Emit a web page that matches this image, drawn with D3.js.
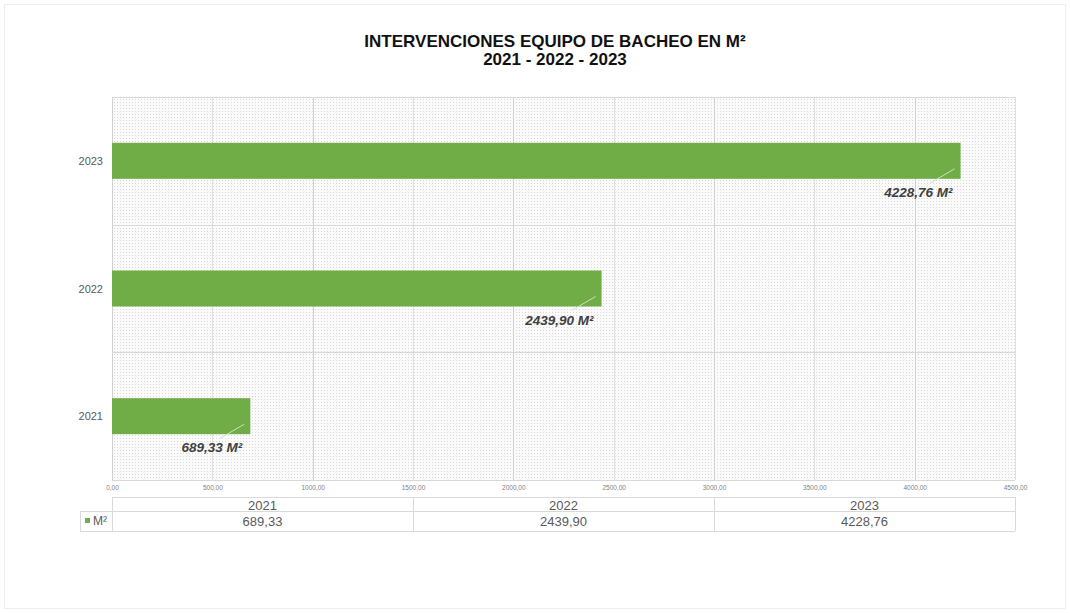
<!DOCTYPE html>
<html><head><meta charset="utf-8">
<script src="https://cdn.jsdelivr.net/npm/d3@7"></script>
<style>body{margin:0;background:#fff;} svg{display:block;font-family:"Liberation Sans",Arial,sans-serif;}</style>
</head><body><svg id="c" width="1070" height="613"></svg>
<script>
const categories = ["2021", "2022", "2023"];
const values = [689.33, 2439.90, 4228.76];
const seriesName = "M²";
const xTicks = [0, 500, 1000, 1500, 2000, 2500, 3000, 3500, 4000, 4500];
const titleLines = ["INTERVENCIONES EQUIPO DE BACHEO EN M²", "2021 - 2022 - 2023"];

const loc = d3.formatLocale({decimal: ",", thousands: "", grouping: [3], currency: ["", ""]});
const f2 = loc.format(".2f");

const svg = d3.select("#c");
const W = 1070, H = 613;
const m = {left: 112, right: 1015, top: 97, bottom: 480};

svg.append("rect").attr("x", 4.5).attr("y", 4.5).attr("width", W - 9).attr("height", H - 9)
  .attr("fill", "#fff").attr("stroke", "#eeeeee");

// dotted texture
const defs = svg.append("defs");
const pat = defs.append("pattern").attr("id", "dots").attr("width", 3).attr("height", 3)
  .attr("patternUnits", "userSpaceOnUse");
pat.append("rect").attr("width", 3).attr("height", 3).attr("fill", "#fbfbfb");
pat.append("rect").attr("width", 1).attr("height", 1).attr("fill", "#d8d8d8");

const x = d3.scaleLinear().domain([0, 4500]).range([m.left, m.right]);
const y = d3.scaleBand().domain(categories.slice().reverse()).range([m.top, m.bottom]).paddingInner(0).paddingOuter(0);

svg.append("rect").attr("x", m.left).attr("y", m.top).attr("width", m.right - m.left)
  .attr("height", m.bottom - m.top).attr("fill", "url(#dots)");

// vertical grid
svg.append("g").selectAll("line").data(xTicks).join("line")
  .attr("x1", d => Math.round(x(d)) + 0.5).attr("x2", d => Math.round(x(d)) + 0.5)
  .attr("y1", m.top).attr("y2", m.bottom)
  .attr("stroke", d => d % 1000 === 0 ? "#d0d0d0" : "#e0e0e0");
// horizontal grid (band boundaries)
const hb = categories.map(c => y(c)).concat([m.bottom]);
svg.append("g").selectAll("line").data(hb).join("line")
  .attr("x1", m.left).attr("x2", m.right)
  .attr("y1", d => Math.round(d) + 0.5).attr("y2", d => Math.round(d) + 0.5)
  .attr("stroke", "#d8d8d8");

// bars
const bh = 36;
svg.append("g").selectAll("rect").data(categories).join("rect")
  .attr("x", x(0)).attr("y", c => y(c) + y.bandwidth() / 2 - bh / 2)
  .attr("width", (c, i) => x(values[i]) - x(0)).attr("height", bh)
  .attr("fill", "#70ad47");

// leader lines + labels
categories.forEach((c, i) => {
  const xe = x(values[i]);
  const yb = y(c) + y.bandwidth() / 2 + bh / 2;
  svg.append("line").attr("x1", xe - 30).attr("y1", yb + 4).attr("x2", xe - 6).attr("y2", yb - 10)
    .attr("stroke", "#cfe0c2").attr("stroke-width", 1);
  svg.append("text").attr("x", xe - 8).attr("y", yb + 18)
    .attr("text-anchor", "end").attr("font-size", 13.5).attr("font-weight", "bold")
    .attr("font-style", "italic").attr("fill", "#404040")
    .text(f2(values[i]) + " " + seriesName);
});

// y labels
svg.append("g").selectAll("text").data(categories).join("text")
  .attr("x", 103).attr("y", c => y(c) + y.bandwidth() / 2 + 4)
  .attr("text-anchor", "end").attr("font-size", 11).attr("fill", "#595959").text(c => c);

// x axis tick labels
const ax = svg.append("g").attr("transform", `translate(0,${m.bottom})`)
  .call(d3.axisBottom(x).tickValues(xTicks).tickFormat(f2).tickSize(0).tickPadding(5));
ax.select(".domain").remove();
ax.selectAll("text").attr("font-size", 6.5).attr("fill", "#7f7f7f")
  .attr("font-family", "'Liberation Sans',Arial,sans-serif");

// data table
const t = {top: 497, mid: 511, bot: 531, legL: 80};
const g = svg.append("g").attr("stroke", "#d9d9d9").attr("stroke-width", 1);
g.append("line").attr("x1", m.left).attr("x2", m.right).attr("y1", t.top + 0.5).attr("y2", t.top + 0.5);
g.append("line").attr("x1", t.legL).attr("x2", m.right).attr("y1", t.mid + 0.5).attr("y2", t.mid + 0.5);
g.append("line").attr("x1", t.legL).attr("x2", m.right).attr("y1", t.bot + 0.5).attr("y2", t.bot + 0.5);
g.append("line").attr("x1", t.legL + 0.5).attr("x2", t.legL + 0.5).attr("y1", t.mid).attr("y2", t.bot);
const colEdges = [0, 1500, 3000, 4500];
g.selectAll(".v").data(colEdges).join("line").attr("class", "v")
  .attr("x1", d => Math.round(x(d)) + 0.5).attr("x2", d => Math.round(x(d)) + 0.5)
  .attr("y1", t.top).attr("y2", t.bot);

categories.forEach((c, i) => {
  const cx = (x(colEdges[i]) + x(colEdges[i + 1])) / 2;
  svg.append("text").attr("x", cx).attr("y", t.mid - 1).attr("text-anchor", "middle")
    .attr("font-size", 13).attr("fill", "#595959").text(c);
  svg.append("text").attr("x", cx).attr("y", t.bot - 5).attr("text-anchor", "middle")
    .attr("font-size", 13).attr("fill", "#595959").text(f2(values[i]));
});
svg.append("rect").attr("x", 85).attr("y", 518).attr("width", 5).attr("height", 5).attr("fill", "#70ad47");
svg.append("text").attr("x", 93).attr("y", 525).attr("font-size", 12).attr("fill", "#595959").text(seriesName);

// title
svg.append("g").selectAll("text").data(titleLines).join("text")
  .attr("x", 555).attr("y", (d, i) => 47 + i * 18).attr("text-anchor", "middle")
  .attr("font-size", 17).attr("font-weight", "bold").attr("fill", "#111").text(d => d);
</script></body></html>
